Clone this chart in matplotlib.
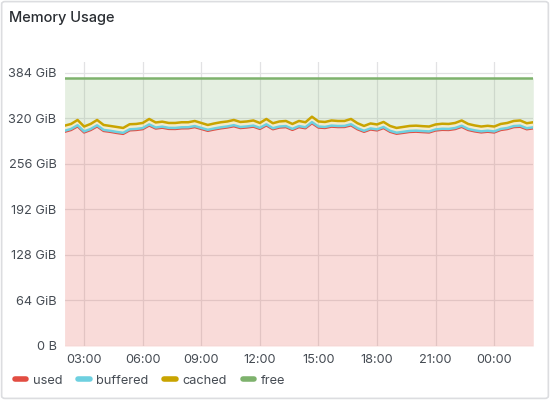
import numpy as np
import pandas as pd
import matplotlib
matplotlib.use("Agg")
import matplotlib.pyplot as plt
import matplotlib.dates as mdates
from matplotlib.patches import FancyBboxPatch
from matplotlib.lines import Line2D

plt.rcParams['font.family'] = ['Inter', 'DejaVu Sans']

# memory values in GiB, one sample every 20 minutes from 02:00
times = pd.date_range("2023-05-01 02:00", periods=73, freq="20min")
mem_total = 377.0

stack_top = [309.9, 312.3, 317.9, 308.7, 312.3, 317.9, 310.9, 309.5, 308.1, 306.7,
             311.9, 312.3, 313.7, 319.3, 314.4, 315.5, 313.7, 313.7, 314.7, 314.7,
             316.5, 313.7, 310.9, 313.0, 314.7, 315.8, 317.9, 315.1, 315.8, 317.2,
             313.7, 319.3, 313.3, 315.8, 316.5, 312.3, 316.5, 314.7, 322.5, 315.8,
             315.1, 317.2, 316.5, 316.5, 319.3, 313.3, 309.5, 313.0, 311.6, 315.1,
             309.5, 306.7, 308.1, 309.5, 309.9, 309.2, 308.7, 311.6, 312.6, 312.3,
             313.7, 317.2, 312.3, 310.2, 308.7, 309.7, 308.7, 312.3, 313.7, 316.5,
             317.2, 313.3, 314.7]
cached = [7.2, 7.0, 7.4, 6.9, 7.1, 7.5, 7.0, 6.8, 7.0, 6.9,
          7.1, 7.0, 7.2, 7.6, 7.1, 7.0, 6.9, 7.0, 7.1, 7.0,
          7.2, 7.0, 6.8, 7.0, 7.1, 7.0, 7.3, 7.1, 7.0, 7.2,
          6.9, 7.5, 7.0, 7.1, 7.2, 6.9, 7.2, 7.0, 7.6, 7.1,
          7.0, 7.2, 7.1, 7.0, 7.4, 7.0, 6.8, 7.0, 6.9, 7.1,
          6.8, 6.7, 6.9, 7.0, 7.0, 6.9, 6.9, 7.0, 7.1, 7.0,
          7.1, 7.4, 7.0, 6.9, 6.8, 6.9, 6.9, 7.0, 7.1, 7.2,
          7.3, 7.0, 7.1]
buffered = [1.4, 1.4, 1.5, 1.4, 1.4, 1.5, 1.4, 1.4, 1.4, 1.4,
            1.4, 1.4, 1.4, 1.5, 1.4, 1.4, 1.4, 1.4, 1.4, 1.4,
            1.4, 1.4, 1.4, 1.4, 1.4, 1.4, 1.5, 1.4, 1.4, 1.4,
            1.4, 1.5, 1.4, 1.4, 1.4, 1.4, 1.4, 1.4, 1.5, 1.4,
            1.4, 1.4, 1.4, 1.4, 1.5, 1.4, 1.4, 1.4, 1.4, 1.4,
            1.4, 1.4, 1.4, 1.4, 1.4, 1.4, 1.4, 1.4, 1.4, 1.4,
            1.4, 1.5, 1.4, 1.4, 1.4, 1.4, 1.4, 1.4, 1.4, 1.4,
            1.5, 1.4, 1.4]

top = np.array(stack_top)
cached = np.array(cached)
buffered = np.array(buffered)
used = top - cached - buffered
free = mem_total - top

names = ['used', 'buffered', 'cached', 'free']
colors = ['#E24D42', '#6ED0E0', '#C9A400', '#7EB26D']

fig = plt.figure(figsize=(5.5, 4), dpi=100)
fig.patch.set_facecolor('white')
fig.patches.append(FancyBboxPatch((0.003, 0.004), 0.994, 0.992,
                                  boxstyle="round,pad=0,rounding_size=0.006",
                                  transform=fig.transFigure, fc='white',
                                  ec='#DCDDE0', lw=1.2, zorder=-1))
ax = fig.add_axes([0.118, 0.135, 0.851, 0.711])

bottom = np.zeros(len(times))
for vals, col in zip([used, buffered, cached, free], colors):
    upper = bottom + vals
    ax.fill_between(times, bottom, upper, color=col, alpha=0.2, lw=0)
    bottom = upper
bottom = np.zeros(len(times))
for vals, col in zip([used, buffered, cached, free], colors):
    bottom = bottom + vals
    ax.plot(times, bottom, color=col, lw=1.8)

ax.set_ylim(0, 400)
ax.set_yticks([0, 64, 128, 192, 256, 320, 384])
ax.set_yticklabels(['0 B', '64 GiB', '128 GiB', '192 GiB', '256 GiB', '320 GiB', '384 GiB'])
ax.set_xlim(pd.Timestamp("2023-05-01 02:01"), pd.Timestamp("2023-05-02 01:59"))
ax.xaxis.set_major_locator(mdates.HourLocator(byhour=range(0, 24, 3)))
ax.xaxis.set_major_formatter(mdates.DateFormatter('%H:%M'))

ax.grid(True, color='#E2E2E4', lw=0.9)
ax.set_axisbelow(True)
for s in ax.spines.values():
    s.set_visible(False)
ax.tick_params(length=0, labelsize=9.2, colors='#464C54', pad=6)
ax.tick_params(axis='x', pad=6)

fig.text(0.017, 0.955, 'Memory Usage', fontsize=10.5, color='#2A2E33',
         fontweight='medium', va='center', ha='left')

handles = [Line2D([], [], color=c, lw=4, solid_capstyle='round') for c in colors]
fig.legend(handles, names, loc='center left', bbox_to_anchor=(0.006, 0.048),
           ncol=4, frameon=False, fontsize=9.2, handlelength=0.9,
           handletextpad=0.5, columnspacing=1.25, labelcolor='#464C54')

fig.savefig('out.png', dpi=100)
